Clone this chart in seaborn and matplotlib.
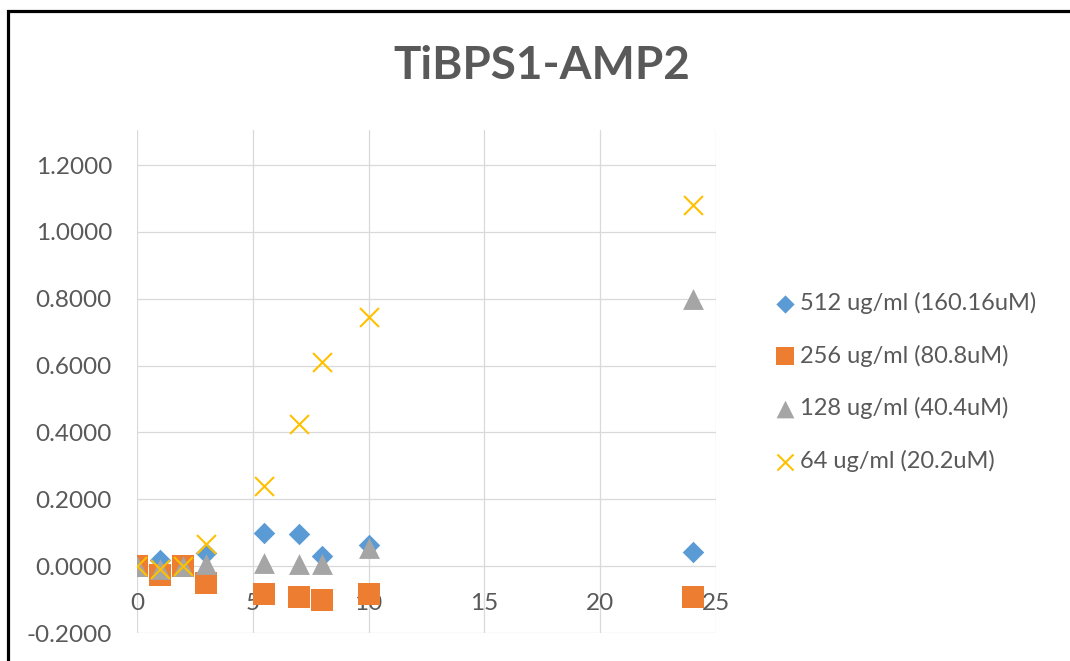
import matplotlib
matplotlib.use("Agg")
import matplotlib.pyplot as plt
from matplotlib.patches import Rectangle
import seaborn as sns
import pandas as pd

# ---- data ----
hours = [0, 1, 2, 3, 5.5, 7, 8, 10, 24]
s512 = [0.000, 0.018, 0.000, 0.040, 0.100, 0.097, 0.030, 0.063, 0.042]
s256 = [0.000, -0.027, 0.000, -0.050, -0.084, -0.093, -0.100, -0.083, -0.093]
s128 = [0.000, -0.010, 0.000, 0.005, 0.008, 0.005, 0.005, 0.055, 0.800]
s64 = [0.000, -0.010, 0.000, 0.065, 0.240, 0.425, 0.610, 0.745, 1.080]

labels = ["512 ug/ml (160.16uM)", "256 ug/ml (80.8uM)",
          "128 ug/ml (40.4uM)", "64 ug/ml (20.2uM)"]
colors = ["#5B9BD5", "#ED7D31", "#A5A5A5", "#FFC000"]
markers = ["D", "s", "^", "x"]

title = "TiBPS1-AMP2"
xticks = [0, 5, 10, 15, 20, 25]
yticks = [-0.2, 0.0, 0.2, 0.4, 0.6, 0.8, 1.0, 1.2]

df = pd.DataFrame({"hours": hours, labels[0]: s512, labels[1]: s256,
                   labels[2]: s128, labels[3]: s64})

sns.set_theme(style="white")
plt.rcParams["font.family"] = ["Lato", "DejaVu Sans"]
text_color = "#595959"

fig = plt.figure(figsize=(10.70, 6.61), dpi=100)
W, H = 1070, 661
ax = fig.add_axes([137 / W, 1 - 633 / H, (716 - 137) / W, (633 - 130) / H])

sizes = [120, 250, 225, 185]
for lab, col, mk, sz in zip(labels, colors, markers, sizes):
    if mk == "x":
        sns.scatterplot(data=df, x="hours", y=lab, marker=mk, color=col,
                        s=sz, linewidth=1.5, label=lab, ax=ax, zorder=3)
    else:
        sns.scatterplot(data=df, x="hours", y=lab, marker=mk, color=col,
                        s=sz, linewidth=0, label=lab, ax=ax, zorder=3)

ax.set_xlim(0, 25)
ax.set_ylim(-0.2, 1.305)
ax.set_xticks(xticks)
ax.set_xticklabels([str(t) for t in xticks])
ax.set_yticks(yticks)
ax.set_yticklabels([f"{v:.4f}" for v in yticks])
ax.set_xlabel("")
ax.set_ylabel("")

ax.grid(True, color="#D9D9D9", linewidth=0.9)
ax.set_axisbelow(True)
for sp in ax.spines.values():
    sp.set_visible(False)
ax.spines["bottom"].set_position(("data", 0))

ax.tick_params(axis="y", length=0, pad=18, labelsize=17.5, labelcolor=text_color)
ax.tick_params(axis="x", length=0, pad=19, labelsize=17.5, labelcolor=text_color)

leg = ax.legend(loc="center left", bbox_to_anchor=(765 / W, 1 - 382 / H),
                bbox_transform=fig.transFigure, frameon=False, borderpad=0,
                handlelength=0.7, handletextpad=0.3, labelspacing=1.3,
                markerscale=0.85, fontsize=17, labelcolor=text_color)

fig.text(542 / W, 1 - 66 / H, title, ha="center", va="center",
         fontsize=33, fontweight="bold", color=text_color)

fig.patches.append(Rectangle((8 / W, -0.2), 2.0, 1.2 - 10.5 / H,
                             transform=fig.transFigure, fill=False,
                             edgecolor="black", linewidth=2.3, clip_on=False))

fig.savefig("out.png", dpi=100)
